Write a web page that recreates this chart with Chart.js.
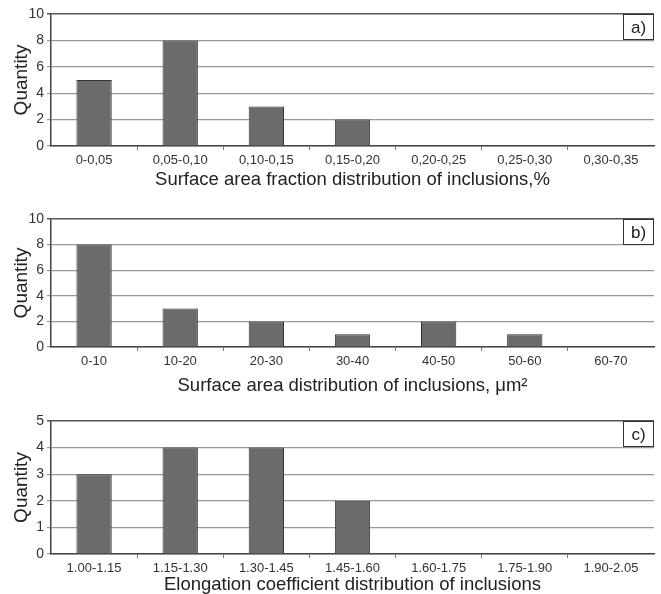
<!DOCTYPE html>
<html>
<head>
<meta charset="utf-8">
<script src="https://cdn.jsdelivr.net/npm/chart.js@4"></script>
<style>
  html, body { margin: 0; padding: 0; background: #fff; overflow: hidden; }
  #wrap { position: relative; width: 661px; height: 594px; overflow: hidden; }
  canvas { position: absolute; left: 0; }
</style>
</head>
<body>
<div id="wrap">
  <canvas id="chartA" style="top:0px"></canvas>
  <canvas id="chartB" style="top:196px"></canvas>
  <canvas id="chartC" style="top:400px"></canvas>
</div>
<script>
// data
const fractionLabels = ['0-0,05', '0,05-0,10', '0,10-0,15', '0,15-0,20', '0,20-0,25', '0,25-0,30', '0,30-0,35'];
const fractionCounts = [5, 8, 3, 2, 0, 0, 0];

const areaLabels = ['0-10', '10-20', '20-30', '30-40', '40-50', '50-60', '60-70'];
const areaCounts = [8, 3, 2, 1, 2, 1, 0];

const elongLabels = ['1.00-1.15', '1.15-1.30', '1.30-1.45', '1.45-1.60', '1.60-1.75', '1.75-1.90', '1.90-2.05'];
const elongCounts = [3, 4, 4, 2, 0, 0, 0];

const FONT = '"Liberation Sans", Arial, sans-serif';

// small boxed panel letter in the upper right corner
const panelTag = {
    id: 'panelTag',
    afterDraw(chart, args, opts) {
        const { ctx, chartArea } = chart;
        const w = 31, h = 26;
        const x = chartArea.right - w, y = chartArea.top;
        ctx.save();
        ctx.fillStyle = '#fff';
        ctx.fillRect(x, y, w, h);
        ctx.strokeStyle = '#333';
        ctx.lineWidth = 1;
        ctx.strokeRect(x + 0.5, y + 0.5, w - 1, h - 1);
        ctx.fillStyle = '#222';
        ctx.font = '17px ' + FONT;
        ctx.textAlign = 'center';
        ctx.textBaseline = 'middle';
        ctx.fillText(opts.text, x + w / 2, y + h / 2 + 1);
        ctx.restore();
    }
};

function makeChart(id, height, padTop, xHeight, labels, values, yMax, yStep, xTitle, tag, titlePadBottom) {
    const canvas = document.getElementById(id);
    canvas.width = 661;
    canvas.height = height;
    canvas.style.width = '661px';
    canvas.style.height = height + 'px';

    return new Chart(canvas.getContext('2d'), {
        type: 'bar',
        data: {
            labels: labels,
            datasets: [{
                data: values,
                backgroundColor: '#6b6b6b',
                borderColor: '#333',
                borderWidth: 1,
                barPercentage: 0.41,
                categoryPercentage: 1
            }]
        },
        options: {
            responsive: false,
            animation: false,
            layout: { padding: { top: padTop, right: 7, left: 0, bottom: 0 } },
            plugins: {
                legend: { display: false },
                tooltip: { enabled: false },
                panelTag: { text: tag }
            },
            scales: {
                x: {
                    offset: true,
                    grid: {
                        offset: true,
                        drawOnChartArea: false,
                        tickLength: 4,
                        // only the inner category boundaries get a tick
                        color: ctx => (ctx.index > 0 && ctx.index < labels.length) ? '#777' : 'rgba(0,0,0,0)'
                    },
                    border: { color: '#444', width: 1.5 },
                    ticks: {
                        color: '#333',
                        font: { family: FONT, size: 13 },
                        padding: 3,
                        maxRotation: 0,
                        autoSkip: false
                    },
                    title: {
                        display: true,
                        text: xTitle,
                        color: '#222',
                        font: { family: FONT, size: 18.5 },
                        padding: { top: 0, bottom: titlePadBottom }
                    },
                    afterFit(scale) { scale.height = xHeight; }
                },
                y: {
                    min: 0,
                    max: yMax,
                    ticks: {
                        stepSize: yStep,
                        color: '#333',
                        font: { family: FONT, size: 14 },
                        padding: 3
                    },
                    grid: {
                        color: ctx => ctx.index === ctx.chart.scales.y.ticks.length - 1 ? '#555' : '#999',
                        lineWidth: ctx => ctx.index === ctx.chart.scales.y.ticks.length - 1 ? 1.5 : 1.2,
                        tickLength: 4
                    },
                    border: { color: '#444', width: 1.5 },
                    title: {
                        display: true,
                        text: 'Quantity',
                        color: '#222',
                        font: { family: FONT, size: 19 },
                        padding: { top: 10, bottom: 0 }
                    },
                    afterFit(scale) { scale.width = 51; }
                }
            }
        },
        plugins: [panelTag]
    });
}

makeChart('chartA', 192, 14, 46, fractionLabels, fractionCounts, 10, 2,
    'Surface area fraction distribution of inclusions,%', 'a)', 0.9);
makeChart('chartB', 202, 23, 51, areaLabels, areaCounts, 10, 2,
    'Surface area distribution of inclusions, \u03BCm\u00B2', 'b)', 0.9);
makeChart('chartC', 198, 21, 44, elongLabels, elongCounts, 5, 1,
    'Elongation coefficient distribution of inclusions', 'c)', 1.9);
</script>
</body>
</html>
